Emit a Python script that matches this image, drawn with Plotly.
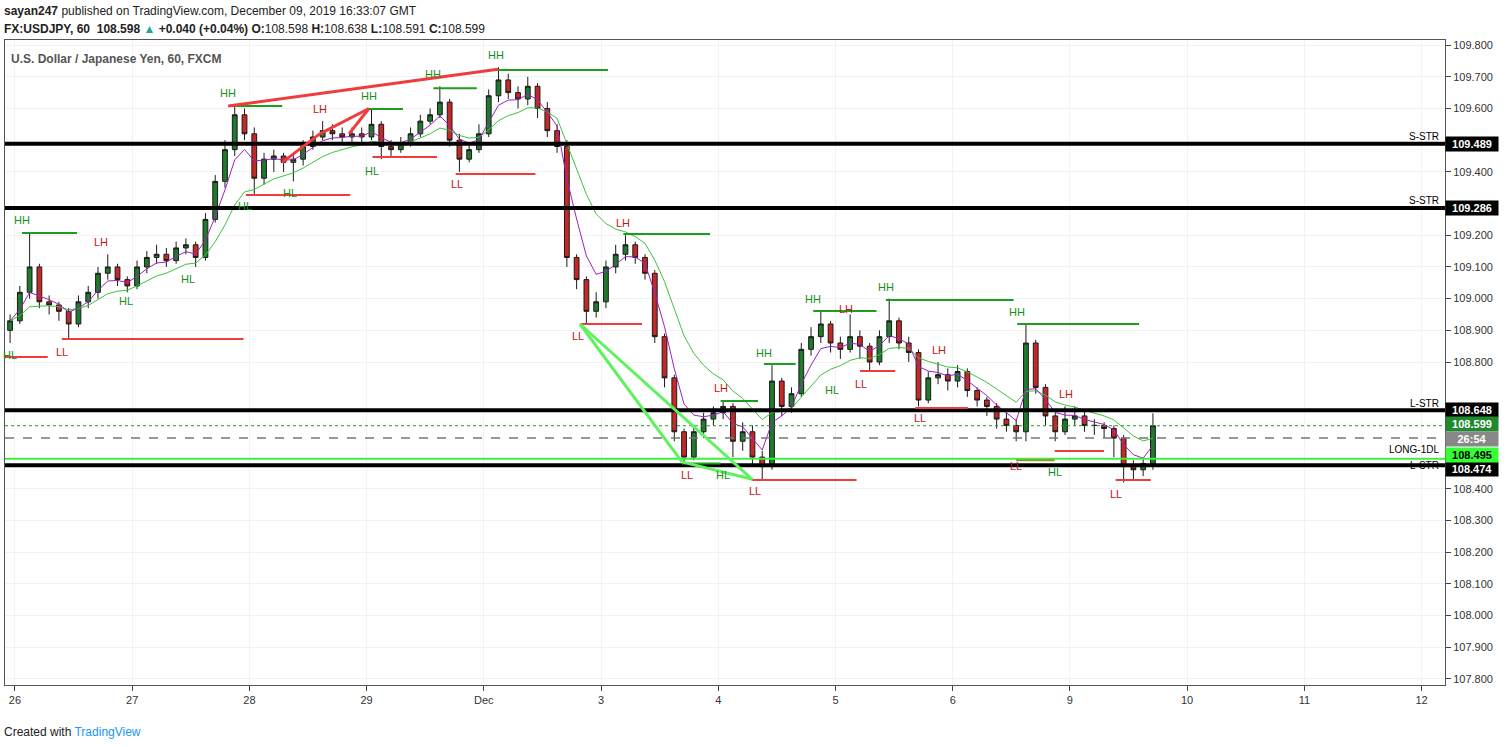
import plotly.graph_objects as go
import numpy as np

# ---- data: 2-hour bars, day index (trading days, weekend removed) ----
day_ticks = [0,1,2,3,4,5,6,7,8,9,10,11,12]
day_labels = ["26","27","28","29","Dec","3","4","5","6","9","10","11","12"]
price_ticks = [107.8,107.9,108.0,108.1,108.2,108.3,108.4,108.8,108.9,109.0,109.1,109.2,109.4,109.6,109.7,109.8]
bars_per_day = [12,12,12,12,12,12,12,12,12,9]
pre_bar = dict(o=108.90, h=108.95, l=108.86, c=108.93)
closes = [
 109.02,109.10,108.99,108.98,108.96,108.92,108.99,109.02,109.08,109.10,109.06,109.04,
 109.10,109.13,109.14,109.12,109.16,109.17,109.13,109.25,109.37,109.47,109.58,109.52,
 109.38,109.44,109.45,109.43,109.44,109.48,109.51,109.53,109.52,109.51,109.52,109.51,
 109.55,109.48,109.47,109.49,109.52,109.56,109.58,109.62,109.50,109.44,109.47,109.52,
 109.64,109.69,109.65,109.63,109.67,109.60,109.53,109.48,109.13,109.06,108.96,108.99,
 109.10,109.14,109.17,109.13,109.08,108.88,108.75,108.58,108.50,108.58,108.62,108.64,
 108.66,108.55,108.58,108.50,108.47,108.74,108.66,108.70,108.84,108.88,108.92,108.86,
 108.84,108.88,108.85,108.80,108.88,108.93,108.86,108.83,108.68,108.75,108.76,108.74,
 108.77,108.71,108.68,108.66,108.62,108.60,108.58,108.86,108.72,108.63,108.58,108.62,
 108.63,108.60,108.60,108.59,108.56,108.47,108.46,108.48,108.599]
highs = [
 109.04,109.21,109.11,109.01,108.99,108.97,109.01,109.04,109.10,109.14,109.11,109.07,
 109.12,109.15,109.17,109.16,109.18,109.19,109.18,109.27,109.39,109.50,109.61,109.60,
 109.54,109.46,109.47,109.46,109.46,109.50,109.53,109.56,109.55,109.54,109.54,109.54,
 109.60,109.56,109.50,109.51,109.54,109.58,109.60,109.67,109.63,109.52,109.49,109.55,
 109.66,109.73,109.71,109.67,109.70,109.68,109.62,109.55,109.50,109.14,109.07,109.02,
 109.12,109.17,109.20,109.18,109.14,109.09,108.89,108.76,108.59,108.60,108.64,108.66,
 108.68,108.67,108.61,108.60,108.52,108.79,108.75,108.72,108.86,108.91,108.96,108.93,
 108.88,108.95,108.90,108.86,108.90,109.00,108.94,108.88,108.84,108.77,108.80,108.78,
 108.79,108.78,108.72,108.69,108.67,108.64,108.62,108.92,108.87,108.73,108.64,108.66,
 108.66,108.65,108.62,108.61,108.60,108.57,108.49,108.50,108.638]
lows = [
 108.92,109.00,108.97,108.95,108.93,108.87,108.91,108.97,109.00,109.06,109.04,109.02,
 109.03,109.08,109.11,109.10,109.11,109.14,109.10,109.12,109.24,109.35,109.45,109.50,
 109.33,109.36,109.40,109.40,109.37,109.42,109.47,109.50,109.50,109.49,109.49,109.49,
 109.50,109.44,109.45,109.46,109.48,109.51,109.55,109.57,109.48,109.40,109.43,109.46,
 109.51,109.62,109.63,109.60,109.61,109.57,109.51,109.46,109.10,109.03,108.92,108.94,
 108.97,109.08,109.12,109.11,109.06,108.86,108.72,108.55,108.48,108.49,108.56,108.60,
 108.62,108.50,108.52,108.47,108.43,108.46,108.63,108.64,108.69,108.82,108.86,108.83,
 108.81,108.83,108.81,108.77,108.79,108.86,108.84,108.80,108.66,108.67,108.73,108.71,
 108.72,108.69,108.66,108.63,108.59,108.58,108.55,108.55,108.70,108.60,108.55,108.57,
 108.60,108.58,108.57,108.56,108.50,108.42,108.43,108.44,108.46]

level_prices = [109.489, 109.286, 108.648, 108.474]
level_names = ["S-STR", "S-STR", "L-STR", "L-STR"]
long_level = 108.495
last_price = 108.599
timer_price = 108.56

piv_x = [0.06,-0.04,0.40,0.73,0.95,1.48,1.82,1.96,2.35,2.60,3.02,3.05,3.57,3.77,4.10,4.80,5.19,5.73,6.02,6.04,6.31,6.39,6.81,6.97,7.09,7.22,7.43,7.88,7.72,8.54,8.55,8.87,8.97,9.39]
piv_p = [109.21,108.86,108.87,109.14,109.03,109.10,109.61,109.33,109.37,109.56,109.60,109.44,109.67,109.40,109.73,108.92,109.20,108.48,108.68,108.48,108.43,108.79,108.96,108.75,108.93,108.77,109.00,108.80,108.66,108.51,108.92,108.49,108.66,108.42]
piv_t = ["HH","HL","LL","LH","HL","HL","HH","HL","HL","LH","HH","HL","HH","LL","HH","LL","LH","LL","LH","HL","LL","HH","HH","HL","LH","LL","HH","LH","LL","LL","HH","HL","LH","LL"]

seg_x0 = [0.06,-0.09,0.40,1.82,1.97,3.02,3.05,3.57,3.76,4.10,4.82,5.19,6.02,6.29,6.39,6.81,7.21,7.43,7.68,8.55,8.87,9.39,8.54,5.69]
seg_x1 = [0.53,0.28,1.95,2.28,2.86,3.31,3.60,3.94,4.44,5.06,5.35,5.93,6.34,7.18,6.66,7.35,7.51,8.52,8.13,9.59,9.29,9.69,8.87,6.02]
seg_p = [109.207,108.816,108.873,109.608,109.327,109.598,109.447,109.664,109.393,109.721,108.92,109.204,108.677,108.428,108.794,108.961,108.772,108.996,108.655,108.92,108.519,108.428,108.49,108.48]
seg_c = ["g","r","r","g","r","g","r","g","r","g","r","g","g","r","g","g","r","g","r","g","r","r","o","g"]

tr_x0 = [1.82,2.28,2.60,2.85,4.82,4.82,5.69]
tr_p0 = [109.608,109.43,109.52,109.52,108.92,108.92,108.485]
tr_x1 = [4.12,2.60,3.02,3.02,5.69,6.29,6.29]
tr_p1 = [109.724,109.52,109.60,109.60,108.485,108.43,108.43]
tr_c = ["r","r","r","r","lg","lg","lg"]

xs = [-1/24]
for d, n in enumerate(bars_per_day):
    for k in range(n):
        xs.append(d + (2*k+1)/24)
C = [pre_bar["c"]] + closes
H = [pre_bar["h"]] + highs
L = [pre_bar["l"]] + lows
O = [pre_bar["o"]] + C[:-1]

def ema(vals, span):
    a = 2/(span+1); out=[]; e=vals[0]
    for v in vals:
        e = a*v+(1-a)*e; out.append(e)
    return out

COL = {"g":"#1e9e1e","r":"#f03c3c","o":"#8a9a2a","lg":"#5ef25e"}
fig = go.Figure()
for p in level_prices:
    fig.add_hline(y=p, line=dict(color="black", width=4))
fig.add_hline(y=long_level, line=dict(color="#3ef03e", width=2))
fig.add_hline(y=last_price, line=dict(color="#1e9e1e", width=1, dash="dot"))
fig.add_hline(y=timer_price, line=dict(color="#777", width=1.5, dash="dash"))

fig.add_trace(go.Scatter(x=xs, y=ema(C,10), mode="lines", line=dict(color="#3cc43c", width=1), hoverinfo="skip"))
fig.add_trace(go.Scatter(x=xs, y=ema(C,4), mode="lines", line=dict(color="#a020c0", width=1), hoverinfo="skip"))
fig.add_trace(go.Candlestick(x=xs, open=O, high=H, low=L, close=C,
    increasing=dict(line=dict(color="#1a1a1a", width=1), fillcolor="#1f7a2e"),
    decreasing=dict(line=dict(color="#1a1a1a", width=1), fillcolor="#c62828"),
    whiskerwidth=0))

for a,b,p,c in zip(seg_x0, seg_x1, seg_p, seg_c):
    fig.add_shape(type="line", x0=a, x1=b, y0=p, y1=p, line=dict(color=COL[c], width=2))
for a,p0,b,p1,c in zip(tr_x0,tr_p0,tr_x1,tr_p1,tr_c):
    fig.add_shape(type="line", x0=a, x1=b, y0=p0, y1=p1, line=dict(color=COL[c], width=3))

UP = {"HH","LH"}
for x,p,t in zip(piv_x,piv_p,piv_t):
    up = t in UP
    col = "#12901a" if t in ("HH","HL") else "#c01818"
    fig.add_annotation(x=x, y=p, text=t, showarrow=False, yshift=12 if up else -12,
                       font=dict(size=11, color=col, family="Liberation Sans"))

box_shift = [0, 0, 0, -4]
name_shift = [7, 7, 7, 0]
for p,n,s,ns in zip(level_prices, level_names, box_shift, name_shift):
    fig.add_annotation(x=1, xref="paper", y=p, text=n, showarrow=False, xanchor="right", xshift=-4, yshift=ns,
                       font=dict(size=10, color="black", family="Liberation Sans"))
    fig.add_annotation(x=1, xref="paper", y=p, text=f"<b>{p:.3f}</b>", showarrow=False, xanchor="left", yshift=s,
                       bgcolor="black", font=dict(size=11, color="white", family="Liberation Sans"), width=50)
fig.add_annotation(x=1, xref="paper", y=long_level, text="LONG-1DL", showarrow=False, xanchor="right", xshift=-4, yshift=9,
                   font=dict(size=10, color="black", family="Liberation Sans"))
fig.add_annotation(x=1, xref="paper", y=long_level, text=f"<b>{long_level:.3f}</b>", showarrow=False, xanchor="left", yshift=4,
                   bgcolor="#33ff33", font=dict(size=11, color="black", family="Liberation Sans"), width=50)
fig.add_annotation(x=1, xref="paper", y=last_price, text=f"<b>{last_price:.3f}</b>", showarrow=False, xanchor="left", yshift=2,
                   bgcolor="#1f8a2e", font=dict(size=11, color="white", family="Liberation Sans"), width=50)
fig.add_annotation(x=1, xref="paper", y=timer_price, text="<b>26:54</b>", showarrow=False, xanchor="left", yshift=-1,
                   bgcolor="#888", font=dict(size=11, color="white", family="Liberation Sans"), width=50)

fig.add_annotation(x=0.003, y=0.985, xref="paper", yref="paper", text="<b>U.S. Dollar / Japanese Yen, 60, FXCM</b>",
                   showarrow=False, xanchor="left", yanchor="top", font=dict(size=12, color="#555", family="Liberation Sans"))
fig.add_annotation(x=0, y=1, xref="paper", yref="paper", xshift=-3, yshift=38, text="<b>sayan247</b> published on TradingView.com, December 09, 2019 16:33:07 GMT",
                   showarrow=False, xanchor="left", yanchor="top", font=dict(size=12, color="#222", family="Liberation Sans"))
fig.add_annotation(x=0, y=1, xref="paper", yref="paper", xshift=-3, yshift=20,
                   text="<b>FX:USDJPY, 60  108.598 <span style='color:#26a69a'>▲</span> +0.040 (+0.04%) O:</b>108.598 <b>H:</b>108.638 <b>L:</b>108.591 <b>C:</b>108.599",
                   showarrow=False, xanchor="left", yanchor="top", font=dict(size=12, color="#222", family="Liberation Sans"))
fig.add_annotation(x=0, y=0, xref="paper", yref="paper", xshift=-3, yshift=-38, text="Created with <span style='color:#2196f3'>TradingView</span>",
                   showarrow=False, xanchor="left", yanchor="top", font=dict(size=12, color="#222", family="Liberation Sans"))

fig.update_layout(width=1508, height=747, margin=dict(l=5, r=63, t=40, b=62, autoexpand=False),
    paper_bgcolor="white", plot_bgcolor="white", showlegend=False,
    xaxis=dict(range=[-0.085, 12.2], tickvals=day_ticks, ticktext=day_labels, rangeslider=dict(visible=False),
               showgrid=True, gridcolor="#f2f2f2", showline=True, linecolor="#555", mirror=True, ticks="outside",
               tickfont=dict(size=11, color="#333", family="Liberation Sans"), zeroline=False, automargin=False),
    yaxis=dict(range=[107.781, 109.816], side="right", tickvals=price_ticks, tickformat=".3f", showgrid=True, gridcolor="#f2f2f2",
               showline=True, linecolor="#555", mirror=True, ticks="outside", automargin=False,
               tickfont=dict(size=11, color="#333", family="Liberation Sans"), zeroline=False))
fig.write_html("out.html", config={"displayModeBar": False})
with open("out.html", encoding="utf-8") as f:
    html = f.read()
html = html.replace("<body>", "<body style=\"margin:0\">", 1)
with open("out.html", "w", encoding="utf-8") as f:
    f.write(html)
